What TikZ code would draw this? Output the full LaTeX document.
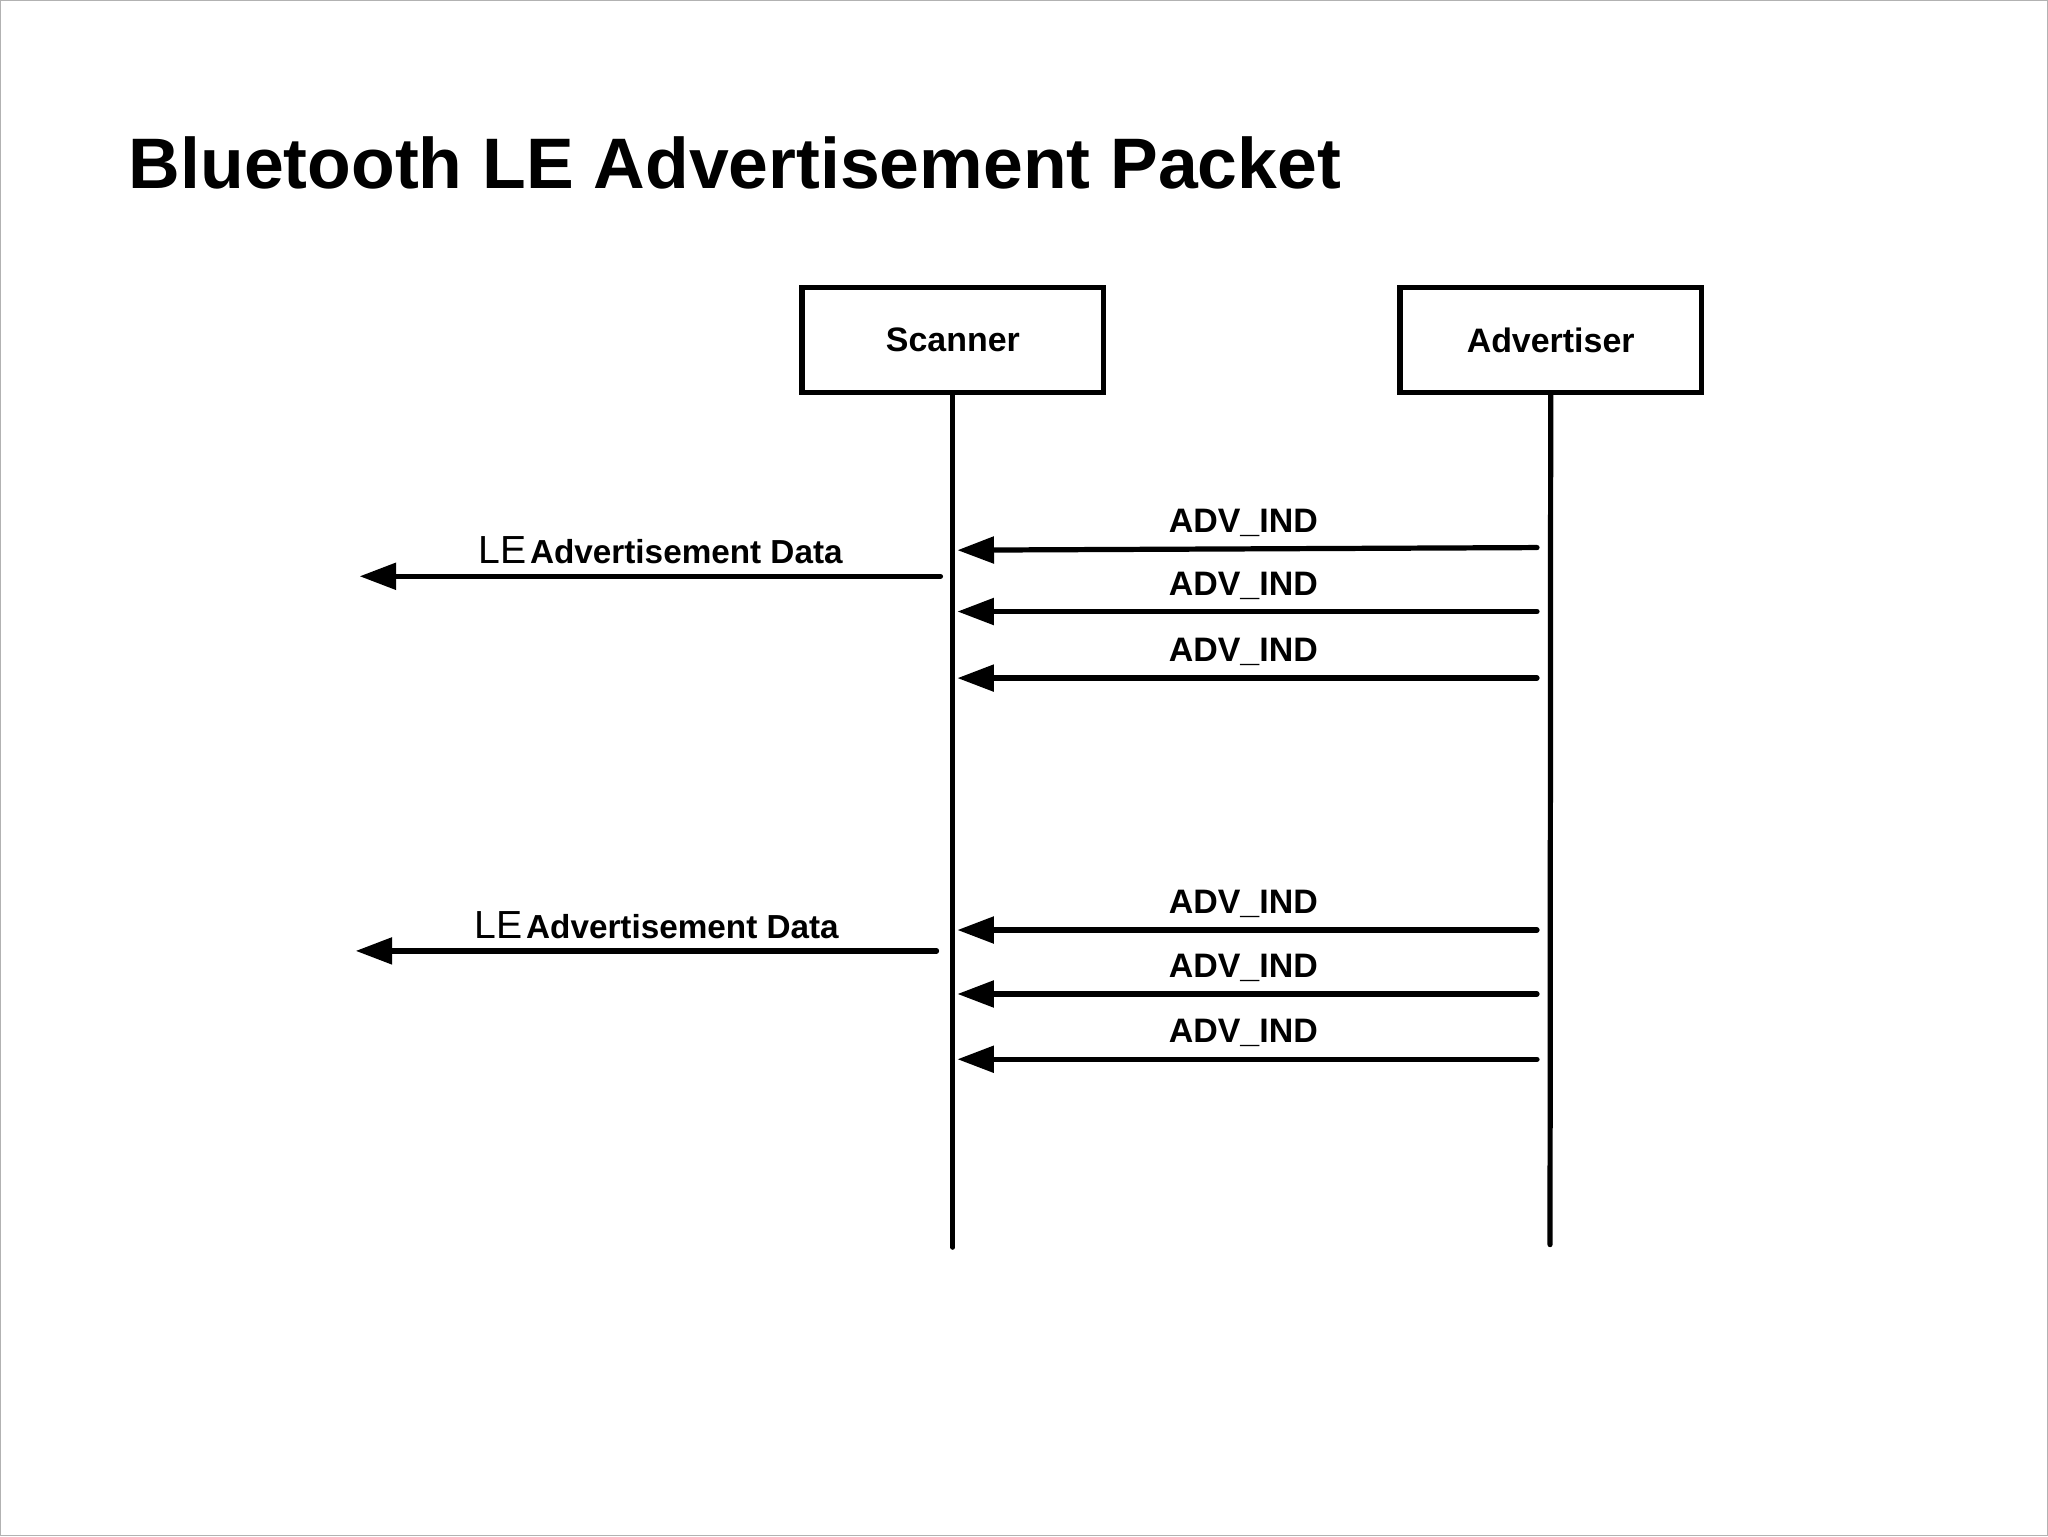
\documentclass[tikz,border=0pt]{standalone}
\usepackage{fontspec}
\setmainfont{Liberation Sans}
\usetikzlibrary{arrows.meta}
\begin{document}
\begin{tikzpicture}[x=1pt,y=-1pt,
  actor/.style={draw,line width=4pt,minimum width=231pt,minimum height=80pt,font=\bfseries\fontsize{26}{30}\selectfont},
  life/.style={line width=4pt,line cap=round},
  msg/.style={line width=4pt,line cap=round,-{Triangle[length=28pt,width=20pt]}},
  lbl/.style={font=\bfseries\fontsize{26}{30}\selectfont}]
\draw[gray!60,line width=1pt] (0,0) rectangle (1568,1176);
\useasboundingbox (0,0) rectangle (1568,1176);
\node[anchor=base west,inner sep=0pt,font=\bfseries\fontsize{54.8}{62}\selectfont] (title) at (98,144) {Bluetooth LE Advertisement Packet};
\node[actor] (sc) at (729.5,260) {Scanner};
\node[actor] (ad) at (1187.5,260) {Advertiser};
\coordinate (scend) at (729.5,955);
\coordinate (adend) at (1187,953);
\draw[life] (sc.south) -- (scend);
\draw[life] (ad.south) -- (adend);
\foreach \i/\y in {1/419,2/468,3/519,4/712,5/761,6/811}{
  \coordinate (s\i) at (1177,\y);
  \coordinate (e\i) at (733,\y);
}
\coordinate (e1) at (733,421);
\foreach \i in {1,...,6}{
  \draw[msg] (s\i) -- (e\i) node[lbl,midway,above=4pt,xshift=-3pt] {ADV\_IND};
}
\coordinate (ls1) at (720,441); \coordinate (le1) at (275,441);
\coordinate (ls2) at (717,728); \coordinate (le2) at (272,728);
\draw[msg] (ls1) -- (le1) node[midway,above=4pt,xshift=8pt] {{\fontsize{30}{34}\selectfont LE}\hspace{3pt}{\bfseries\fontsize{25.5}{30}\selectfont Advertisement Data}};
\draw[msg] (ls2) -- (le2) node[midway,above=4pt,xshift=8pt] {{\fontsize{30}{34}\selectfont LE}\hspace{3pt}{\bfseries\fontsize{25.5}{30}\selectfont Advertisement Data}};
\end{tikzpicture}
\end{document}
